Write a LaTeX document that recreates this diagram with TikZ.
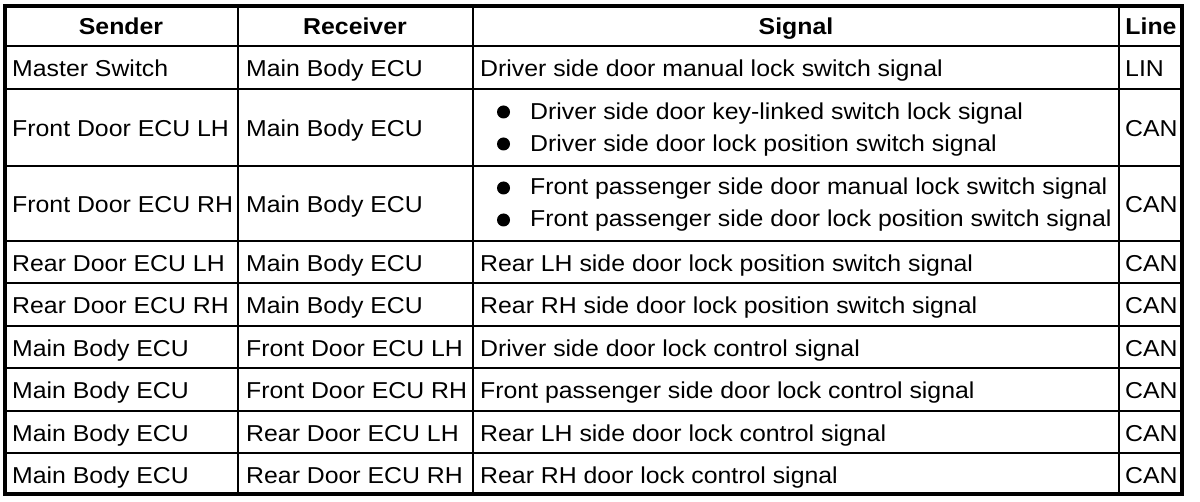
\documentclass[tikz,border=0pt]{standalone}
\usepackage{fontspec}
\setmainfont[FakeStretch=1.08]{Liberation Sans}
\begin{document}
\begin{tikzpicture}[x=1pt, y=-1pt,
  every node/.style = {inner sep=0pt, anchor=base west, font=\fontsize{23}{30}\selectfont},
  head/.style = {anchor=base, font=\fontsize{23}{30}\selectfont\bfseries},
  rule/.style = {line width=2pt},
  frame/.style = {line width=3.5pt}]
  \useasboundingbox (0,0) rectangle (1200,502);
  % grid lines
  \foreach \y in {46,89,166,241,283,326,368,411,453}
    \draw[rule] (5,\y) -- (1182,\y);
  \foreach \x in {238,473,1119}
    \draw[rule] (\x,6) -- (\x,494);
  \draw[frame] (5,6) rectangle (1182,494);
  % header
  \node[head] (hsender)   at (121,35)  {Sender};
  \node[head] (hreceiver) at (355,35)  {Receiver};
  \node[head] (hsignal)   at (796,35)  {Signal};
  \node[head] (hline)     at (1151,35) {Line};
  % one-line rows
  \foreach \n/\b/\snd/\rcv/\sig/\ln in {
      1/77/Master Switch/Main Body ECU/Driver side door manual lock switch signal/LIN,
      4/271.5/Rear Door ECU LH/Main Body ECU/Rear LH side door lock position switch signal/CAN,
      5/314/Rear Door ECU RH/Main Body ECU/Rear RH side door lock position switch signal/CAN,
      6/356.5/Main Body ECU/Front Door ECU LH/Driver side door lock control signal/CAN,
      7/399/Main Body ECU/Front Door ECU RH/Front passenger side door lock control signal/CAN,
      8/441.5/Main Body ECU/Rear Door ECU LH/Rear LH side door lock control signal/CAN,
      9/483/Main Body ECU/Rear Door ECU RH/Rear RH door lock control signal/CAN} {
    \node (snd\n) at (12,\b)   {\snd};
    \node (rcv\n) at (246,\b)  {\rcv};
    \node (sig\n) at (480,\b)  {\sig};
    \node (lin\n) at (1125,\b) {\ln};
  }
  % two-line rows
  \node (snd2) at (12,137)   {Front Door ECU LH};
  \node (rcv2) at (246,137)  {Main Body ECU};
  \node (sig2a) at (530,120) {Driver side door key-linked switch lock signal};
  \node (sig2b) at (530,152) {Driver side door lock position switch signal};
  \node (lin2) at (1125,137) {CAN};
  \node (snd3) at (12,213)   {Front Door ECU RH};
  \node (rcv3) at (246,213)  {Main Body ECU};
  \node (sig3a) at (530,195) {Front passenger side door manual lock switch signal};
  \node (sig3b) at (530,227) {Front passenger side door lock position switch signal};
  \node (lin3) at (1125,213) {CAN};
  % bullets
  \foreach \y in {112,144,188,220}
    \fill (503.5,\y) circle (6.5pt);
\end{tikzpicture}
\end{document}
